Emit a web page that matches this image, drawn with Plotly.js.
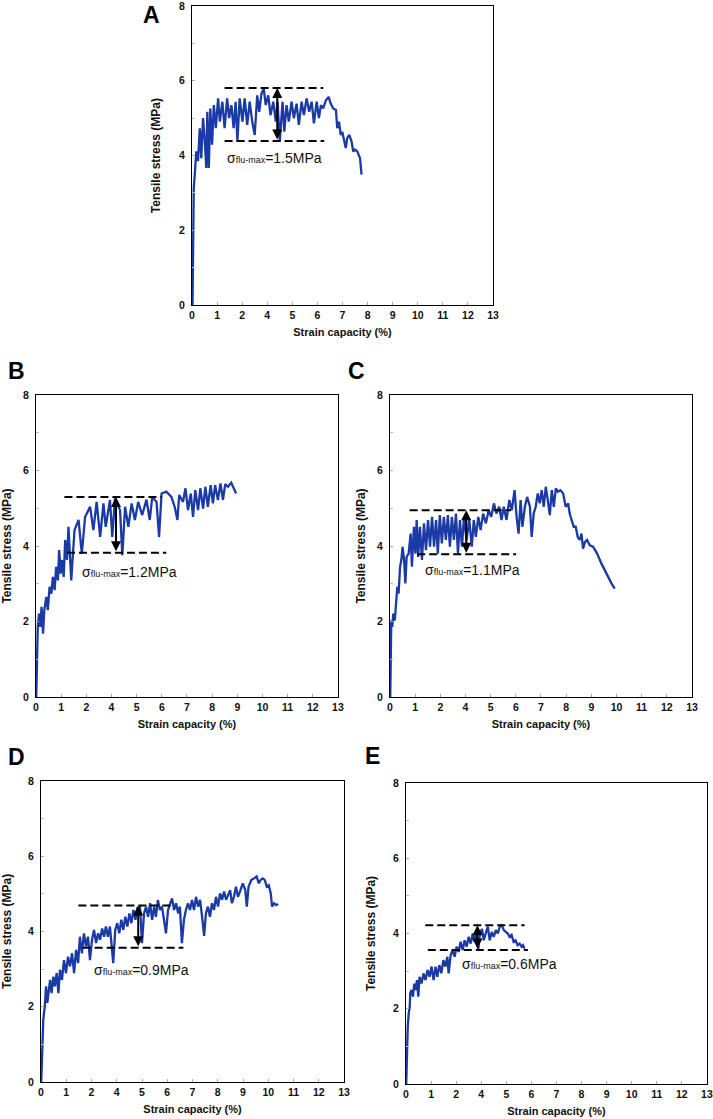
<!DOCTYPE html>
<html>
<head>
<meta charset="utf-8">
<script src="https://cdn.plot.ly/plotly-3.0.1.min.js"></script>
<style>
  body { margin: 0; background: #fff; }
  #graph1 { width: 713px; height: 1119px; }
</style>
</head>
<body>
<div id="graph1"></div>
<script>
// x = position along the strain axis (one unit per tick mark), y = tensile stress (MPa)
let aX = [0.02, 0.04, 0.07, 0.11, 0.17, 0.24, 0.31, 0.37, 0.44, 0.51,
          0.57, 0.61, 0.67, 0.73, 0.80, 0.87, 0.95, 1.04, 1.11, 1.21,
          1.30, 1.40, 1.48, 1.57, 1.66, 1.74, 1.81, 1.90, 2.01, 2.10,
          2.20, 2.30, 2.40, 2.50, 2.60, 2.68, 2.77, 2.86, 2.94, 3.04,
          3.13, 3.24, 3.34, 3.41, 3.50, 3.61, 3.68, 3.77, 3.86, 3.97,
          4.06, 4.17, 4.26, 4.37, 4.46, 4.57, 4.67, 4.77, 4.86, 4.97,
          5.06, 5.14, 5.23, 5.34, 5.45, 5.53, 5.63, 5.74, 5.79, 5.86,
          5.93, 5.99, 6.06, 6.13, 6.19, 6.27, 6.36, 6.43, 6.50, 6.59,
          6.70, 6.76];
let aY = [0, 2.08, 3.14, 3.49, 4.11, 3.85, 4.73, 3.93, 5.00, 4.38,
          3.67, 5.17, 3.67, 5.26, 4.29, 5.35, 4.73, 5.53, 4.91, 5.44,
          4.73, 5.53, 5.00, 5.35, 4.73, 5.44, 4.38, 5.53, 4.91, 5.53,
          4.82, 5.44, 4.91, 4.55, 5.61, 5.17, 5.66, 5.79, 5.35, 5.61,
          5.08, 5.44, 4.91, 5.44, 4.38, 5.44, 4.64, 5.35, 4.91, 5.44,
          5.00, 5.39, 4.82, 5.44, 5.08, 5.53, 5.17, 5.44, 4.86, 5.44,
          5.00, 5.35, 5.26, 5.48, 5.57, 5.39, 5.26, 5.22, 4.73, 4.91,
          4.55, 4.64, 4.38, 4.20, 4.47, 4.55, 4.38, 4.11, 4.16, 4.11,
          3.93, 3.49];

let bX = [0.01, 0.04, 0.07, 0.12, 0.17, 0.22, 0.28, 0.33, 0.41, 0.47,
          0.54, 0.61, 0.67, 0.74, 0.80, 0.87, 0.92, 0.98, 1.04, 1.10,
          1.16, 1.23, 1.29, 1.40, 1.53, 1.69, 1.82, 1.95, 2.15, 2.28,
          2.41, 2.55, 2.68, 2.77, 2.94, 3.03, 3.14, 3.34, 3.43, 3.54,
          3.67, 3.80, 3.93, 4.06, 4.22, 4.39, 4.52, 4.62, 4.79, 4.89,
          4.99, 5.18, 5.38, 5.51, 5.62, 5.69, 5.84, 5.94, 6.04, 6.15,
          6.24, 6.33, 6.44, 6.53, 6.64, 6.73, 6.83, 6.94, 7.03, 7.12,
          7.23, 7.33, 7.43, 7.52, 7.63, 7.76, 7.86, 7.95];
let bY = [0, 1.06, 1.86, 2.21, 1.86, 2.39, 1.68, 2.30, 2.65, 2.30,
          2.92, 2.74, 3.18, 2.83, 3.45, 3.09, 3.89, 3.27, 3.63, 3.18,
          4.16, 3.63, 4.51, 3.09, 4.42, 4.69, 3.80, 4.77, 5.04, 4.42,
          5.17, 4.24, 5.13, 4.51, 5.22, 4.24, 5.26, 4.95, 3.76, 5.04,
          4.51, 5.13, 4.69, 5.17, 4.82, 5.23, 4.69, 5.30, 5.17, 4.24,
          5.39, 5.44, 5.30, 5.04, 4.69, 5.35, 5.17, 5.53, 4.95, 5.39,
          4.77, 5.48, 4.95, 5.53, 4.99, 5.57, 5.04, 5.61, 5.13, 5.61,
          5.22, 5.66, 5.22, 5.64, 5.57, 5.68, 5.53, 5.39];

let cX = [0.01, 0.02, 0.05, 0.09, 0.13, 0.19, 0.24, 0.29, 0.34, 0.40,
          0.45, 0.50, 0.56, 0.61, 0.66, 0.74, 0.82, 0.87, 0.95, 1.01,
          1.06, 1.12, 1.19, 1.27, 1.35, 1.43, 1.51, 1.59, 1.67, 1.75,
          1.83, 1.90, 1.98, 2.06, 2.14, 2.22, 2.30, 2.38, 2.46, 2.54,
          2.62, 2.70, 2.78, 2.86, 2.94, 3.04, 3.15, 3.25, 3.33, 3.41,
          3.51, 3.60, 3.70, 3.81, 3.92, 4.02, 4.13, 4.23, 4.34, 4.43,
          4.52, 4.63, 4.74, 4.84, 4.95, 5.03, 5.11, 5.19, 5.26, 5.36,
          5.45, 5.56, 5.63, 5.71, 5.79, 5.87, 5.95, 6.03, 6.11, 6.19,
          6.27, 6.35, 6.43, 6.51, 6.59, 6.67, 6.77, 6.88, 6.98, 7.08,
          7.14, 7.22, 7.30, 7.38, 7.46, 7.54, 7.61, 7.67, 7.75, 7.83,
          7.94, 8.07, 8.23, 8.40, 8.60, 8.80, 8.93];
let cY = [0, 1.50, 2.03, 1.86, 2.21, 2.03, 2.56, 2.92, 2.74, 3.45,
          3.63, 3.98, 3.63, 3.01, 3.71, 3.80, 4.33, 3.45, 4.51, 3.80,
          4.69, 3.71, 4.51, 3.63, 4.60, 3.89, 4.69, 3.98, 4.77, 3.98,
          4.69, 3.80, 4.82, 4.07, 4.77, 4.16, 4.82, 3.98, 4.77, 4.16,
          4.86, 3.80, 4.69, 3.98, 4.77, 4.16, 4.69, 3.98, 4.69, 4.24,
          4.77, 4.42, 4.86, 4.60, 4.95, 4.77, 5.13, 4.86, 5.04, 4.69,
          5.04, 4.69, 5.22, 4.95, 5.48, 4.77, 4.33, 5.22, 4.51, 5.04,
          5.30, 5.04, 4.24, 4.86, 5.04, 5.39, 5.13, 5.48, 5.04, 5.57,
          5.22, 4.82, 5.48, 5.04, 5.53, 5.44, 5.48, 5.39, 5.04, 5.13,
          4.86, 4.69, 4.51, 4.51, 4.24, 4.16, 4.33, 3.93, 4.11, 4.16,
          4.02, 3.98, 3.80, 3.54, 3.27, 3.01, 2.87];

let dX = [0.01, 0.04, 0.09, 0.15, 0.20, 0.25, 0.30, 0.36, 0.42, 0.49,
          0.55, 0.62, 0.69, 0.75, 0.83, 0.91, 0.99, 1.07, 1.15, 1.23,
          1.31, 1.39, 1.47, 1.54, 1.62, 1.70, 1.78, 1.86, 1.94, 2.02,
          2.10, 2.18, 2.26, 2.34, 2.42, 2.50, 2.57, 2.65, 2.73, 2.81,
          2.86, 2.94, 3.02, 3.10, 3.18, 3.26, 3.34, 3.42, 3.50, 3.58,
          3.66, 3.74, 3.81, 3.92, 4.00, 4.08, 4.16, 4.24, 4.32, 4.40,
          4.48, 4.55, 4.63, 4.71, 4.79, 4.87, 4.95, 5.03, 5.11, 5.19,
          5.27, 5.35, 5.43, 5.50, 5.58, 5.66, 5.74, 5.82, 5.90, 5.98,
          6.06, 6.14, 6.22, 6.30, 6.38, 6.46, 6.53, 6.61, 6.69, 6.77,
          6.85, 6.93, 7.01, 7.09, 7.17, 7.25, 7.33, 7.41, 7.49, 7.56,
          7.64, 7.72, 7.80, 7.88, 7.99, 8.09, 8.15, 8.22, 8.33, 8.44,
          8.54, 8.62, 8.70, 8.78, 8.86, 8.94, 9.02, 9.10, 9.15, 9.23,
          9.31, 9.39];
let dY = [0, 0.77, 1.65, 2.01, 2.54, 2.10, 2.45, 2.71, 2.36, 2.80,
          2.54, 2.89, 2.36, 2.98, 2.71, 3.24, 2.89, 3.33, 3.07, 3.42,
          2.89, 3.51, 3.16, 3.86, 3.42, 3.95, 3.60, 3.86, 3.24, 3.78,
          4.04, 3.69, 3.95, 3.78, 4.08, 3.86, 4.13, 3.86, 4.13, 3.60,
          3.16, 4.04, 4.22, 3.95, 4.31, 4.04, 4.39, 4.13, 4.48, 4.22,
          4.57, 4.31, 4.62, 4.66, 3.69, 4.48, 4.66, 4.39, 4.75, 4.31,
          4.66, 4.39, 4.84, 4.57, 4.66, 4.31, 3.95, 4.57, 4.75, 4.88,
          4.57, 4.75, 4.48, 4.66, 3.69, 4.31, 4.57, 4.75, 4.57, 4.84,
          4.57, 4.92, 4.66, 4.84, 4.39, 3.88, 4.48, 4.66, 4.39, 4.75,
          4.57, 4.92, 4.66, 5.01, 4.84, 5.06, 4.84, 4.97, 5.10, 4.75,
          4.92, 5.19, 4.92, 5.06, 5.28, 5.10, 4.66, 5.19, 5.37, 5.41,
          5.46, 5.28, 5.37, 5.41, 5.37, 5.19, 5.23, 5.01, 4.66, 4.75,
          4.70, 4.73];

let eX = [0.01, 0.04, 0.07, 0.11, 0.15, 0.17, 0.22, 0.28, 0.33, 0.38,
          0.44, 0.49, 0.54, 0.62, 0.70, 0.78, 0.86, 0.94, 1.02, 1.10,
          1.18, 1.25, 1.33, 1.41, 1.49, 1.57, 1.65, 1.70, 1.78, 1.86,
          1.94, 2.02, 2.10, 2.18, 2.26, 2.34, 2.42, 2.50, 2.58, 2.66,
          2.73, 2.81, 2.88, 2.95, 3.03, 3.10, 3.18, 3.26, 3.34, 3.42,
          3.50, 3.58, 3.66, 3.74, 3.82, 3.90, 3.98, 4.06, 4.13, 4.21,
          4.29, 4.37, 4.45, 4.53, 4.61, 4.66, 4.73];
let eY = [0, 0.90, 1.52, 1.88, 2.05, 2.41, 2.50, 2.32, 2.67, 2.50,
          2.76, 2.32, 2.85, 2.67, 2.94, 2.76, 3.03, 2.85, 3.12, 2.76,
          3.12, 2.85, 3.16, 2.94, 3.29, 3.12, 3.38, 2.94, 3.42, 3.56,
          3.38, 3.65, 3.51, 3.78, 3.56, 3.82, 3.65, 3.91, 3.73, 4.00,
          3.78, 4.04, 3.56, 4.00, 4.12, 3.82, 4.00, 4.18, 3.82, 4.04,
          3.91, 4.09, 4.00, 4.18, 4.22, 4.09, 4.04, 4.00, 3.91, 3.96,
          3.78, 3.82, 3.69, 3.73, 3.65, 3.69, 3.60];

// fluctuation band drawn on each panel (A..E)
let panelNames = ['A', 'B', 'C', 'D', 'E'];
let flucTop = [5.81, 5.30, 4.95, 4.69, 4.22];
let flucBottom = [4.39, 3.82, 3.78, 3.57, 3.56];
let topStart = [1.30, 1.13, 0.78, 1.48, 0.77];
let topEnd = [5.23, 4.99, 4.81, 5.24, 4.73];
let bottomStart = [1.30, 1.23, 1.08, 1.65, 0.87];
let bottomEnd = [5.27, 5.18, 5.01, 5.64, 4.86];
let arrowX = [3.40, 3.18, 3.03, 3.85, 2.85];
let flucValue = ['1.5', '1.2', '1.1', '0.9', '0.6'];
let textX = [1.30, 1.75, 1.30, 2.01, 2.15];
let textY = [3.93, 3.32, 3.36, 2.98, 3.20];

// tick labels as printed (the "3" is missing on the original axes)
let xTickVals = [0, 1, 2, 3, 4, 5, 6, 7, 8, 9, 10, 11, 12];
let xTickText = ['0', '1', '2', '4', '5', '6', '7', '8', '9', '10', '11', '12', '13'];
let yTickVals = [0, 2, 4, 6, 8];

let curvesX = [aX, bX, cX, dX, eX];
let curvesY = [aY, bY, cY, dY, eY];

// where each panel sits on the page
let xDomains = [[0.2693, 0.6914], [0.0505, 0.4740], [0.5470, 0.9705], [0.0575, 0.4825], [0.5694, 0.9915]];
let yDomains = [[0.7274, 0.9946], [0.3771, 0.6470], [0.3771, 0.6470], [0.0331, 0.3021], [0.0313, 0.3003]];
let letterPos = [[0.2118, 0.9866], [0.0238, 0.6685], [0.5007, 0.6685], [0.0238, 0.3235], [0.5231, 0.3244]];
let yStandoff = [15, 14, 8, 15, 14];

let boldFont = {family: 'Liberation Sans, Arial, sans-serif', size: 10.5, color: '#111', weight: 'bold'};
let xTitleFont = {family: 'Liberation Sans, Arial, sans-serif', size: 11, color: '#111', weight: 'bold'};
let yTitleFont = {family: 'Liberation Sans, Arial, sans-serif', size: 12, color: '#111', weight: 'bold'};

let data = [];
let shapes = [];
let annotations = [];
let layout = {
    width: 713,
    height: 1119,
    margin: {l: 0, r: 0, t: 0, b: 0},
    paper_bgcolor: '#fff',
    plot_bgcolor: '#fff',
    showlegend: false
};

for (let i = 0; i < 5; i++) {
    let n = i === 0 ? '' : String(i + 1);
    let xa = 'x' + n, ya = 'y' + n;

    data.push({
        x: curvesX[i],
        y: curvesY[i],
        xaxis: xa,
        yaxis: ya,
        type: 'scatter',
        mode: 'lines',
        line: {color: '#1a3aa5', width: 2.3},
        hoverinfo: 'skip'
    });

    layout['xaxis' + n] = {
        domain: xDomains[i],
        anchor: ya,
        range: [0, 12],
        tickmode: 'array',
        tickvals: xTickVals,
        ticktext: xTickText,
        ticks: 'inside',
        ticklen: 3,
        tickcolor: '#aaa',
        ticklabeloverflow: 'allow',
        showline: true,
        mirror: true,
        linecolor: '#000',
        linewidth: 1,
        showgrid: false,
        zeroline: false,
        tickfont: boldFont,
        title: {text: 'Strain capacity (%)', font: xTitleFont, standoff: 8}
    };
    layout['yaxis' + n] = {
        domain: yDomains[i],
        anchor: xa,
        range: [0, 8],
        tickmode: 'array',
        tickvals: yTickVals,
        ticks: 'inside',
        ticklen: 3,
        tickcolor: '#aaa',
        minor: {tickvals: [1, 3, 5, 7], ticks: 'inside', ticklen: 3, tickcolor: '#bbb'},
        ticklabelstandoff: 4,
        ticklabeloverflow: 'allow',
        showline: true,
        mirror: true,
        linecolor: '#000',
        linewidth: 1,
        showgrid: false,
        zeroline: false,
        tickfont: boldFont,
        title: {text: 'Tensile stress (MPa)', font: yTitleFont, standoff: yStandoff[i]}
    };

    // dashed lines marking the max fluctuation band
    shapes.push({type: 'line', xref: xa, yref: ya, x0: topStart[i], x1: topEnd[i],
        y0: flucTop[i], y1: flucTop[i], line: {color: '#000', width: 2, dash: '8px,4px'}});
    shapes.push({type: 'line', xref: xa, yref: ya, x0: bottomStart[i], x1: bottomEnd[i],
        y0: flucBottom[i], y1: flucBottom[i], line: {color: '#000', width: 2, dash: '8px,4px'}});

    // double headed arrow
    annotations.push({
        xref: xa, yref: ya, axref: xa, ayref: ya,
        x: arrowX[i], y: flucTop[i], ax: arrowX[i], ay: flucBottom[i],
        text: '', showarrow: true, arrowside: 'end+start',
        arrowhead: 2, startarrowhead: 2, arrowsize: 1, startarrowsize: 1,
        arrowwidth: 2, arrowcolor: '#000', standoff: 0, startstandoff: 0
    });

    annotations.push({
        xref: xa, yref: ya, x: textX[i], y: textY[i],
        xanchor: 'left', yanchor: 'middle', showarrow: false,
        text: 'σ<span style="font-size:9px">flu-max</span>=' + flucValue[i] + 'MPa',
        font: {family: 'Liberation Sans, Arial, sans-serif', size: 14, color: '#111'}
    });

    annotations.push({
        xref: 'paper', yref: 'paper', x: letterPos[i][0], y: letterPos[i][1],
        xanchor: 'center', yanchor: 'middle', showarrow: false,
        text: panelNames[i],
        font: {family: 'Liberation Sans, Arial, sans-serif', size: 23, color: '#000', weight: 'bold'}
    });
}

layout.shapes = shapes;
layout.annotations = annotations;

Plotly.newPlot('graph1', data, layout, {staticPlot: true});
</script>
</body>
</html>
